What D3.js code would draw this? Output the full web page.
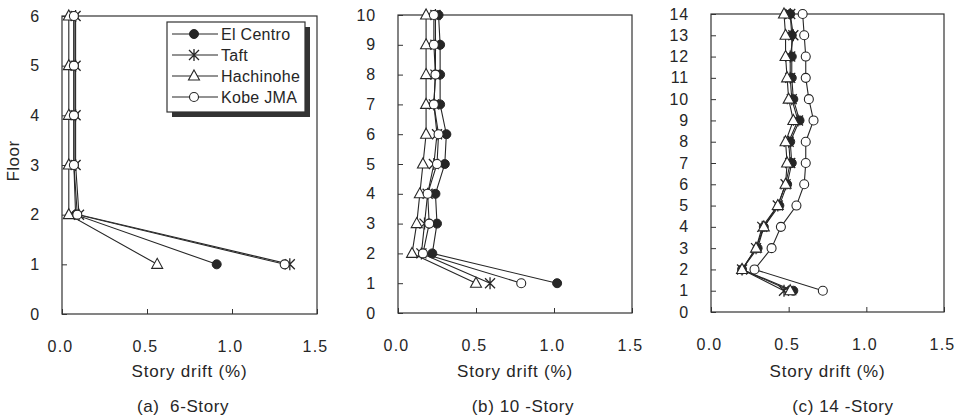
<!DOCTYPE html>
<html>
<head>
<meta charset="utf-8">
<script src="https://cdn.jsdelivr.net/npm/d3@7"></script>
<style>
body { margin: 0; background: #fff; }
svg text { font-family: Arial, "Liberation Sans", sans-serif; fill: #262626; white-space: pre; }
</style>
</head>
<body>
<svg id="chart" width="961" height="419"></svg>
<script>
// series names and tick values
var seriesNames = ["El Centro", "Taft", "Hachinohe", "Kobe JMA"];
var xTicks = [0, 0.5, 1.0, 1.5];

// (a) 6-story
var floors6 = [1, 2, 3, 4, 5, 6];
var elCentro6 = [0.91, 0.08, 0.07, 0.07, 0.07, 0.07];
var taft6 = [1.34, 0.10, 0.08, 0.08, 0.08, 0.08];
var hachinohe6 = [0.56, 0.04, 0.04, 0.04, 0.04, 0.04];
var kobe6 = [1.31, 0.09, 0.07, 0.07, 0.07, 0.07];

// (b) 10-story
var floors10 = [1, 2, 3, 4, 5, 6, 7, 8, 9, 10];
var elCentro10 = [1.02, 0.22, 0.25, 0.24, 0.30, 0.31, 0.27, 0.27, 0.27, 0.26];
var taft10 = [0.59, 0.15, 0.17, 0.19, 0.23, 0.25, 0.23, 0.24, 0.24, 0.24];
var hachinohe10 = [0.50, 0.09, 0.12, 0.14, 0.16, 0.18, 0.18, 0.18, 0.18, 0.18];
var kobe10 = [0.79, 0.16, 0.20, 0.19, 0.25, 0.26, 0.23, 0.24, 0.23, 0.23];

// (c) 14-story
var floors14 = [1, 2, 3, 4, 5, 6, 7, 8, 9, 10, 11, 12, 13, 14];
var elCentro14 = [0.53, 0.20, 0.30, 0.34, 0.44, 0.49, 0.52, 0.51, 0.57, 0.53, 0.52, 0.52, 0.52, 0.51];
var taft14 = [0.47, 0.20, 0.29, 0.33, 0.43, 0.48, 0.51, 0.50, 0.56, 0.52, 0.51, 0.51, 0.53, 0.51];
var hachinohe14 = [0.51, 0.20, 0.29, 0.34, 0.43, 0.48, 0.49, 0.48, 0.53, 0.50, 0.49, 0.48, 0.48, 0.47];
var kobe14 = [0.72, 0.28, 0.39, 0.45, 0.55, 0.60, 0.61, 0.61, 0.66, 0.63, 0.61, 0.61, 0.60, 0.59];

var svg = d3.select("#chart");
var ink = "#262626";

var panels = [
    {title: "(a)  6-Story", floors: floors6, series: [elCentro6, taft6, hachinohe6, kobe6],
     left: 62, right: 317, top: 16, bottom: 314, titleX: 183, yLabel: true, legend: true},
    {title: "(b) 10 -Story", floors: floors10, series: [elCentro10, taft10, hachinohe10, kobe10],
     left: 398, right: 632, top: 15, bottom: 313, titleX: 523},
    {title: "(c) 14 -Story", floors: floors14, series: [elCentro14, taft14, hachinohe14, kobe14],
     left: 711, right: 944, top: 14, bottom: 312, titleX: 843}
];

function drawMarker(g, k, x, y) {
    if (k == 0) {
        g.append("circle").attr("cx", x).attr("cy", y).attr("r", 4.5)
            .attr("fill", ink).attr("stroke", ink);
    } else if (k == 1) {
        var r = 5;
        g.append("path")
            .attr("d", "M" + (x - r) + "," + (y - r) + "L" + (x + r) + "," + (y + r) +
                "M" + (x - r) + "," + (y + r) + "L" + (x + r) + "," + (y - r) +
                "M" + x + "," + (y - r - 1) + "L" + x + "," + (y + r + 1))
            .attr("stroke", ink).attr("stroke-width", 1.3).attr("fill", "none");
    } else if (k == 2) {
        g.append("path")
            .attr("d", "M" + x + "," + (y - 6) + "L" + (x + 5.5) + "," + (y + 4) + "L" + (x - 5.5) + "," + (y + 4) + "Z")
            .attr("fill", "#fff").attr("stroke", ink).attr("stroke-width", 1.1);
    } else {
        g.append("circle").attr("cx", x).attr("cy", y).attr("r", 4.5)
            .attr("fill", "#fff").attr("stroke", ink).attr("stroke-width", 1.1);
    }
}

panels.forEach(function(p) {
    var nF = p.floors.length;
    var x = d3.scaleLinear().domain([0, 1.5]).range([p.left, p.right]);
    var y = d3.scaleLinear().domain([0, nF]).range([p.bottom, p.top]);

    var g = svg.append("g");

    // frame
    g.append("rect")
        .attr("x", p.left).attr("y", p.top)
        .attr("width", p.right - p.left).attr("height", p.bottom - p.top)
        .attr("fill", "none").attr("stroke", "#333").attr("stroke-width", 1.2);

    // x axis
    var xAxis = g.append("g")
        .attr("transform", "translate(0," + p.bottom + ")")
        .call(d3.axisBottom(x).tickValues(xTicks).tickSizeInner(-5).tickSizeOuter(0)
            .tickPadding(27).tickFormat(d3.format(".1f")));
    xAxis.select(".domain").remove();
    xAxis.selectAll("line").attr("stroke", "#333");
    xAxis.selectAll("text").attr("font-size", 16).attr("letter-spacing", 1.2)
        .attr("dx", -2).attr("fill", ink);

    // y axis
    var yAxis = g.append("g")
        .attr("transform", "translate(" + p.left + ",0)")
        .call(d3.axisLeft(y).ticks(nF).tickSizeInner(-5).tickSizeOuter(0).tickPadding(22));
    yAxis.select(".domain").remove();
    yAxis.selectAll("line").attr("stroke", "#333");
    yAxis.selectAll("text").attr("font-size", 16).attr("letter-spacing", 0.8).attr("fill", ink);

    // lines then markers
    var line = d3.line()
        .x(function(d) { return x(d[0]); })
        .y(function(d) { return y(d[1]); });

    p.series.forEach(function(vals, k) {
        var pts = vals.map(function(v, i) { return [v, p.floors[i]]; });
        g.append("path").datum(pts)
            .attr("d", line)
            .attr("fill", "none").attr("stroke", ink).attr("stroke-width", 1.1);
        pts.forEach(function(d) { drawMarker(g, k, x(d[0]), y(d[1])); });
    });

    // axis title and caption
    var cx = (p.left + p.right) / 2;
    g.append("text").attr("x", cx).attr("y", 377).attr("text-anchor", "middle")
        .attr("font-size", 17).attr("letter-spacing", 0.8).text("Story drift (%)");
    g.append("text").attr("x", p.titleX).attr("y", 412).attr("text-anchor", "middle")
        .attr("font-size", 17).attr("letter-spacing", 0.6).text(p.title);

    if (p.yLabel) {
        g.append("text")
            .attr("transform", "translate(19,161) rotate(-90)")
            .attr("text-anchor", "middle").attr("font-size", 17).attr("letter-spacing", 0.5).text("Floor");
    }

    if (p.legend) {
        var lx = 167, ly = 22, lw = 138, lh = 90;
        g.append("rect").attr("x", lx + 5).attr("y", ly + 5).attr("width", lw).attr("height", lh)
            .attr("fill", "#333");
        g.append("rect").attr("x", lx).attr("y", ly).attr("width", lw).attr("height", lh)
            .attr("fill", "#fff").attr("stroke", "#333").attr("stroke-width", 1.2);
        seriesNames.forEach(function(name, k) {
            var yy = ly + 12 + k * 21;
            g.append("line").attr("x1", lx + 5).attr("x2", lx + 51).attr("y1", yy).attr("y2", yy)
                .attr("stroke", ink).attr("stroke-width", 1.1);
            drawMarker(g, k, lx + 27, yy);
            g.append("text").attr("x", lx + 54).attr("y", yy + 6).attr("font-size", 16)
                .attr("letter-spacing", 0.3).text(name);
        });
    }
});
</script>
</body>
</html>
